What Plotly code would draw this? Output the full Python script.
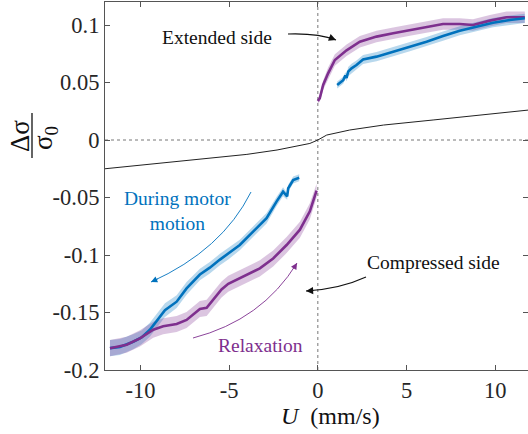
import plotly.graph_objects as go

# ---------------- data ----------------
black_u = [-12, -9, -6.6, -4, -2.3, -1, -0.45, 0, 0.5, 1.8, 3.7, 6.5, 9.3, 11.85]
black_v = [-0.025, -0.0205, -0.0167, -0.0125, -0.0087, -0.005, -0.003, 0.0,
           0.0043, 0.0087, 0.013, 0.0174, 0.0217, 0.026]

blue_neg_u = [-11.72, -11.16, -10.41, -9.94, -9.47, -9.09, -8.62, -7.96, -7.40, -6.65,
              -6.09, -5.52, -5.05, -4.40, -3.65, -2.89, -2.33, -1.96, -1.73, -1.67, -1.39, -1.05]
blue_neg_v = [-0.181, -0.180, -0.1754, -0.1716, -0.165, -0.157, -0.148, -0.1406, -0.129, -0.117,
              -0.111, -0.104, -0.099, -0.0913, -0.0797, -0.068, -0.0536, -0.045, -0.049, -0.042, -0.0348, -0.0328]
blue_neg_e = [0.007, 0.007, 0.0065, 0.006, 0.006, 0.006, 0.006, 0.0055, 0.0055, 0.005,
              0.005, 0.005, 0.005, 0.0045, 0.0045, 0.0045, 0.004, 0.004, 0.003, 0.003, 0.003, 0.003]

purple_neg_u = [-11.72, -10.78, -10.03, -9.28, -8.72, -7.96, -7.40, -6.65, -6.27, -5.85,
                -5.43, -5.05, -4.21, -3.27, -2.52, -1.76, -1.01, -0.45, -0.07]
purple_neg_v = [-0.181, -0.178, -0.1725, -0.165, -0.162, -0.160, -0.1565, -0.147, -0.146, -0.138,
                -0.130, -0.125, -0.119, -0.1116, -0.103, -0.0913, -0.078, -0.062, -0.044]
purple_neg_e = [0.007, 0.007, 0.007, 0.007, 0.007, 0.007, 0.007, 0.007, 0.007, 0.007,
                0.007, 0.007, 0.007, 0.007, 0.007, 0.007, 0.007, 0.007, 0.006]

purple_pos_u = [0.0, 0.11, 0.30, 0.58, 0.96, 1.62, 2.37, 3.31, 4.25, 5.19, 6.13, 7.06,
                8.0, 8.75, 9.70, 10.64, 11.67]
purple_pos_v = [0.034, 0.0363, 0.0478, 0.058, 0.0696, 0.078, 0.0855, 0.0899, 0.0928, 0.0957,
                0.0985, 0.1009, 0.1009, 0.100, 0.1038, 0.1067, 0.1067]
purple_pos_e = [0.002, 0.003, 0.004, 0.005, 0.005, 0.005, 0.005, 0.005, 0.005, 0.005,
                0.005, 0.005, 0.005, 0.005, 0.005, 0.005, 0.005]

blue_pos_u = [1.09, 1.43, 1.55, 1.62, 1.71, 1.90, 2.18, 2.55, 3.31, 4.25, 5.19, 6.13,
              7.06, 8.0, 8.94, 9.88, 10.82, 11.67]
blue_pos_v = [0.0478, 0.052, 0.056, 0.054, 0.0594, 0.0623, 0.0652, 0.070, 0.0725, 0.0768,
              0.0812, 0.0855, 0.0904, 0.095, 0.0985, 0.102, 0.1043, 0.1058]
blue_pos_e = [0.003, 0.003, 0.003, 0.003, 0.004, 0.004, 0.004, 0.004, 0.004, 0.004,
              0.004, 0.004, 0.004, 0.004, 0.004, 0.004, 0.004, 0.004]

x_ticks = [-10, -5, 0, 5, 10]
y_ticks = [-0.2, -0.15, -0.1, -0.05, 0, 0.05, 0.1]
y_tick_text = ["-0.2", "-0.15", "-0.1", "-0.05", "0", "0.05", "0.1"]

# ---------------- styling ----------------
BLUE = "#0072BD"
PURPLE = "#7E2F8E"
BLUE_BAND = "rgba(0,114,189,0.28)"
PURPLE_BAND = "rgba(126,47,142,0.28)"
FONT = "'Liberation Serif', 'Times New Roman', Tinos, 'DejaVu Serif', serif"
TXT = "#262626"

W, H = 528, 434
L, R, T, B = 105, 528, 2, 370
XR = [-12, 11.85]
YR = [-0.2, 0.12]


def px_x(px):
    return XR[0] + (px - L) / (R - L) * (XR[1] - XR[0])


def px_y(py):
    return YR[1] - (py - T) / (B - T) * (YR[1] - YR[0])


def paper_x(px):
    return (px - L) / (R - L)


def paper_y(py):
    return (B - py) / (B - T)


fig = go.Figure()


def band(u, v, e, color):
    up = [a + b for a, b in zip(v, e)]
    lo = [a - b for a, b in zip(v, e)]
    fig.add_trace(go.Scatter(x=list(u) + list(u)[::-1], y=up + lo[::-1], fill="toself",
                             fillcolor=color, line=dict(width=0), mode="lines",
                             hoverinfo="skip", showlegend=False))


band(blue_neg_u, blue_neg_v, blue_neg_e, BLUE_BAND)
band(purple_neg_u, purple_neg_v, purple_neg_e, PURPLE_BAND)
band(purple_pos_u, purple_pos_v, purple_pos_e, PURPLE_BAND)
band(blue_pos_u, blue_pos_v, blue_pos_e, BLUE_BAND)

fig.add_trace(go.Scatter(x=black_u, y=black_v, mode="lines",
                         line=dict(color="#222222", width=1), showlegend=False))
for u, v, c in [(blue_neg_u, blue_neg_v, BLUE), (purple_neg_u, purple_neg_v, PURPLE),
                (purple_pos_u, purple_pos_v, PURPLE), (blue_pos_u, blue_pos_v, BLUE)]:
    fig.add_trace(go.Scatter(x=u, y=v, mode="lines", line=dict(color=c, width=2.6),
                             showlegend=False))

# dotted reference lines
fig.add_shape(type="line", x0=0, x1=0, y0=YR[0], y1=YR[1], xref="x", yref="y",
              line=dict(color="#777777", width=1, dash="dot"), layer="below")
fig.add_shape(type="line", x0=XR[0], x1=XR[1], y0=0, y1=0, xref="x", yref="y",
              line=dict(color="#777777", width=1, dash="dot"), layer="below")


def curved_arrow(p0, pc, p1, color, width=1.0, head=1.0):
    path = "M {},{} Q {},{} {},{}".format(px_x(p0[0]), px_y(p0[1]), px_x(pc[0]), px_y(pc[1]),
                                          px_x(p1[0]), px_y(p1[1]))
    fig.add_shape(type="path", path=path, xref="x", yref="y", line=dict(color=color, width=width))
    dx, dy = p1[0] - pc[0], p1[1] - pc[1]
    n = (dx * dx + dy * dy) ** 0.5
    fig.add_annotation(x=px_x(p1[0]), y=px_y(p1[1]), xref="x", yref="y", text=" ",
                       font=dict(size=1), showarrow=True, arrowhead=2, arrowsize=head,
                       arrowwidth=width, arrowcolor=color, ax=-dx / n * 9, ay=-dy / n * 9)


curved_arrow((288, 34), (318, 33), (336, 40), "#111111", 1.1, 1.3)
curved_arrow((366, 277), (340, 289), (306, 291), "#111111", 1.1, 1.3)
curved_arrow((251, 192), (222, 250), (151, 282), BLUE, 0.9, 1.4)
curved_arrow((193, 338), (262, 320), (297, 263), PURPLE, 0.9, 1.4)


# text annotations
def label(px, py, text, color, size=19.5):
    fig.add_annotation(x=px_x(px), y=px_y(py), xref="x", yref="y", text=text, showarrow=False,
                       font=dict(family=FONT, size=size, color=color), xanchor="center",
                       yanchor="middle")


label(217, 37, "Extended side", "#111111")
label(433, 262, "Compressed side", "#111111")
label(177, 211, "During motor<br>motion", BLUE)
label(260, 345, "Relaxation", PURPLE)

# y-axis title as a rotated fraction
fig.add_annotation(x=paper_x(20), y=paper_y(136), xref="paper", yref="paper",
                   xanchor="center", yanchor="middle",
                   text="Δσ", textangle=-90, showarrow=False,
                   font=dict(family=FONT, size=27, color="#111111"))
fig.add_annotation(x=paper_x(45), y=paper_y(138), xref="paper", yref="paper",
                   xanchor="center", yanchor="middle",
                   text="σ<sub>0</sub>", textangle=-90, showarrow=False,
                   font=dict(family=FONT, size=27, color="#111111"))
fig.add_shape(type="line", xref="paper", yref="paper",
              x0=paper_x(32), x1=paper_x(32), y0=paper_y(113), y1=paper_y(158),
              line=dict(color="#111111", width=1.3))

# x-axis title
fig.add_annotation(x=paper_x(330), y=paper_y(416), xref="paper", yref="paper",
                   xanchor="center", yanchor="middle",
                   text="<i>U</i>  (mm/s)", showarrow=False,
                   font=dict(family=FONT, size=24, color="#111111"))

axis_common = dict(showline=True, linecolor="#555555", linewidth=1.2, mirror="ticks",
                   ticks="inside", ticklen=5, tickcolor="#555555", showgrid=False,
                   zeroline=False, tickfont=dict(family=FONT, size=22.5, color=TXT))
fig.update_xaxes(range=XR, tickvals=x_ticks, ticktext=[str(t) for t in x_ticks],
                 ticklabelstandoff=0, **axis_common)
fig.update_yaxes(range=YR, tickvals=y_ticks, ticktext=y_tick_text,
                 ticklabelstandoff=0, **axis_common)

fig.update_layout(width=W, height=H, margin=dict(l=L, r=W - R, t=T, b=H - B, autoexpand=False),
                  plot_bgcolor="white", paper_bgcolor="white", showlegend=False,
                  font=dict(family=FONT))

fig.write_html("out.html", config={"displayModeBar": False},
               post_script="document.body.style.margin='0';document.body.style.padding='0';")
